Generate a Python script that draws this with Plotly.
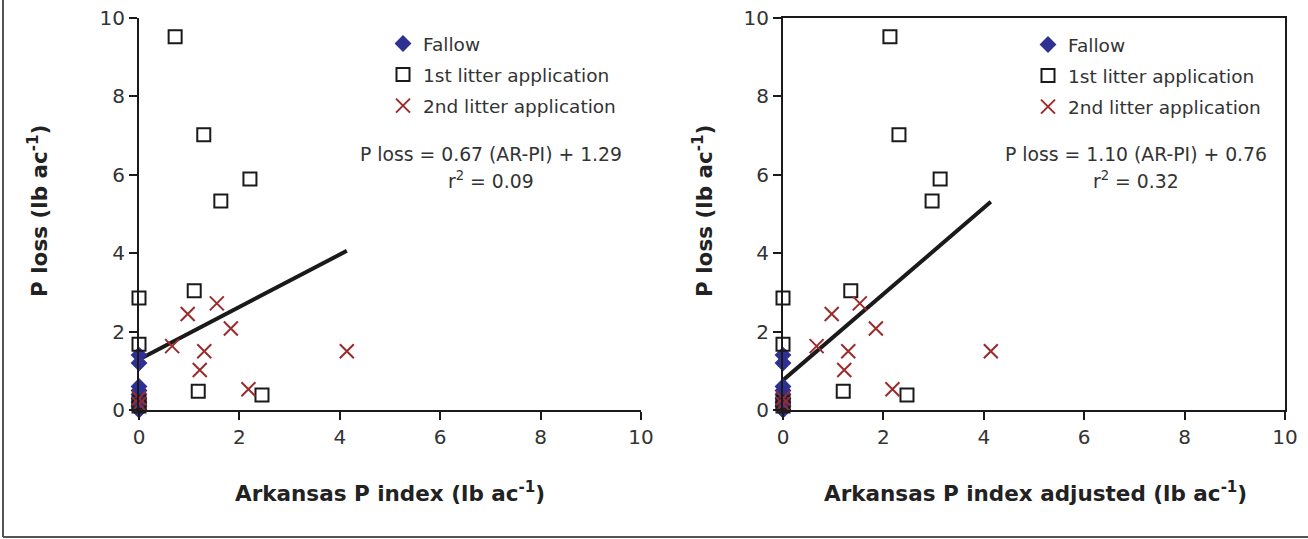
import plotly.graph_objects as go

# ---- data ----
fallow_x = [0, 0, 0, 0, 0, 0, 0, 0, 0]
fallow_y = [1.4, 1.2, 0.6, 0.5, 0.4, 0.3, 0.2, 0.1, 0.0]

lit1_x = [0.72, 1.29, 2.21, 1.63, 1.10, 0, 0, 1.18, 2.45, 0, 0]
lit1_x_adj = [2.13, 2.31, 3.13, 2.97, 1.35, 0, 0, 1.20, 2.47, 0, 0]
lit1_y = [9.52, 7.02, 5.89, 5.33, 3.04, 2.86, 1.68, 0.48, 0.38, 0.2, 0.1]

lit2_x = [0.66, 0.97, 1.55, 1.83, 1.30, 1.21, 2.18, 4.14, 0, 0]
lit2_x_adj = [0.67, 0.97, 1.53, 1.85, 1.30, 1.22, 2.18, 4.14, 0, 0]
lit2_y = [1.63, 2.45, 2.72, 2.08, 1.50, 1.02, 0.53, 1.50, 0.3, 0.15]

fit_x = [0, 4.14]
fit_left_y = [1.29, 4.06]
fit_right_y = [0.76, 5.31]

eq_left = ["P loss = 0.67 (AR-PI) + 1.29", "r<sup>2</sup> = 0.09"]
eq_right = ["P loss = 1.10 (AR-PI) + 0.76", "r<sup>2</sup> = 0.32"]

x_titles = ["Arkansas P index (lb ac<sup>-1</sup>)",
            "Arkansas P index adjusted (lb ac<sup>-1</sup>)"]
y_title = "P loss (lb ac<sup>-1</sup>)"
tick_vals = [0, 2, 4, 6, 8, 10]

# ---- styles ----
W, H = 1308, 539
FONT = "DejaVu Sans"
BLUE = "#2E3192"
RED = "#9B2B2B"
TXT = "#333333"


def px(x):
    return x / W


def py(y):
    return 1 - y / H


fig = go.Figure()

panels = [
    ("x", "y", lit1_x, lit2_x, fit_left_y, "legend"),
    ("x2", "y2", lit1_x_adj, lit2_x_adj, fit_right_y, "legend2"),
]

for xa, ya, l1x, l2x, fity, leg in panels:
    fig.add_trace(go.Scatter(
        x=fit_x, y=fity, mode="lines", xaxis=xa, yaxis=ya,
        line=dict(color="#1a1a1a", width=4), showlegend=False, cliponaxis=False))
    fig.add_trace(go.Scatter(
        x=fallow_x, y=fallow_y, mode="markers", name="Fallow", xaxis=xa, yaxis=ya,
        marker=dict(symbol="diamond", size=13, color=BLUE, line=dict(width=0)),
        legend=leg, legendgroup="a" + leg, cliponaxis=False))
    fig.add_trace(go.Scatter(
        x=l1x, y=lit1_y, mode="markers", name="1st litter application", xaxis=xa, yaxis=ya,
        marker=dict(symbol="square-open", size=13, color="#1a1a1a", line=dict(width=2)),
        legend=leg, legendgroup="b" + leg, cliponaxis=False))
    fig.add_trace(go.Scatter(
        x=l2x, y=lit2_y, mode="markers", name="2nd litter application", xaxis=xa, yaxis=ya,
        marker=dict(symbol="x-thin-open", size=14, color=RED, line=dict(width=2, color=RED)),
        legend=leg, legendgroup="c" + leg, cliponaxis=False))

axis_common = dict(
    range=[0, 10], tickvals=tick_vals, showgrid=False, zeroline=False,
    showline=True, linecolor="#1a1a1a", linewidth=2, automargin=False,
    ticks="outside", ticklen=8, tickwidth=2, tickcolor="#1a1a1a",
    tickfont=dict(family=FONT, size=20, color=TXT),
)

ydom = [py(410), py(18)]
leg_common = dict(xanchor="left", yanchor="top",
                  font=dict(family=FONT, size=18.5, color=TXT),
                  bgcolor="rgba(0,0,0,0)", tracegroupgap=4, itemwidth=30)
fig.update_layout(
    template="none",
    width=W, height=H, autosize=False,
    margin=dict(l=0, r=0, t=0, b=0, pad=0, autoexpand=False),
    paper_bgcolor="white", plot_bgcolor="white",
    xaxis=dict(domain=[px(139), px(641)], anchor="y", **axis_common),
    yaxis=dict(domain=ydom, anchor="x", **axis_common),
    xaxis2=dict(domain=[px(783), px(1285)], anchor="y2", mirror=True, **axis_common),
    yaxis2=dict(domain=ydom, anchor="x2", mirror=True, **axis_common),
    legend=dict(x=px(383), y=py(25), **leg_common),
    legend2=dict(x=px(1028), y=py(26), **leg_common),
    showlegend=True,
)

ann = []
for cx, lines in [(491, eq_left), (1136, eq_right)]:
    ann.append(dict(x=px(cx), y=py(154), xref="paper", yref="paper", text=lines[0],
                    xanchor="center", yanchor="middle",
                    showarrow=False, font=dict(family=FONT, size=18.8, color=TXT)))
    ann.append(dict(x=px(cx), y=py(180), xref="paper", yref="paper", text=lines[1],
                    xanchor="center", yanchor="middle",
                    showarrow=False, font=dict(family=FONT, size=18.8, color=TXT)))
for cx, t in [(390, x_titles[0]), (1035, x_titles[1])]:
    ann.append(dict(x=px(cx), y=py(492), xref="paper", yref="paper", text="<b>" + t + "</b>",
                    xanchor="center", yanchor="middle",
                    showarrow=False, font=dict(family=FONT, size=21.5, color="#222222")))
for cx in [38, 703]:
    ann.append(dict(x=px(cx), y=py(211), xref="paper", yref="paper", text="<b>" + y_title + "</b>",
                    xanchor="center", yanchor="middle",
                    textangle=-90, showarrow=False, font=dict(family=FONT, size=21.5, color="#222222")))
fig.update_layout(annotations=ann)

# outer frame (left and bottom visible)
fig.add_shape(type="line", xref="paper", yref="paper", x0=px(3), x1=px(3), y0=py(537), y1=1,
              line=dict(color="#555555", width=2))
fig.add_shape(type="line", xref="paper", yref="paper", x0=px(3), x1=1, y0=py(537), y1=py(537),
              line=dict(color="#555555", width=2))

fig.write_html(
    "out.html",
    post_script="document.body.style.margin='0';document.body.style.overflow='hidden';",
)
